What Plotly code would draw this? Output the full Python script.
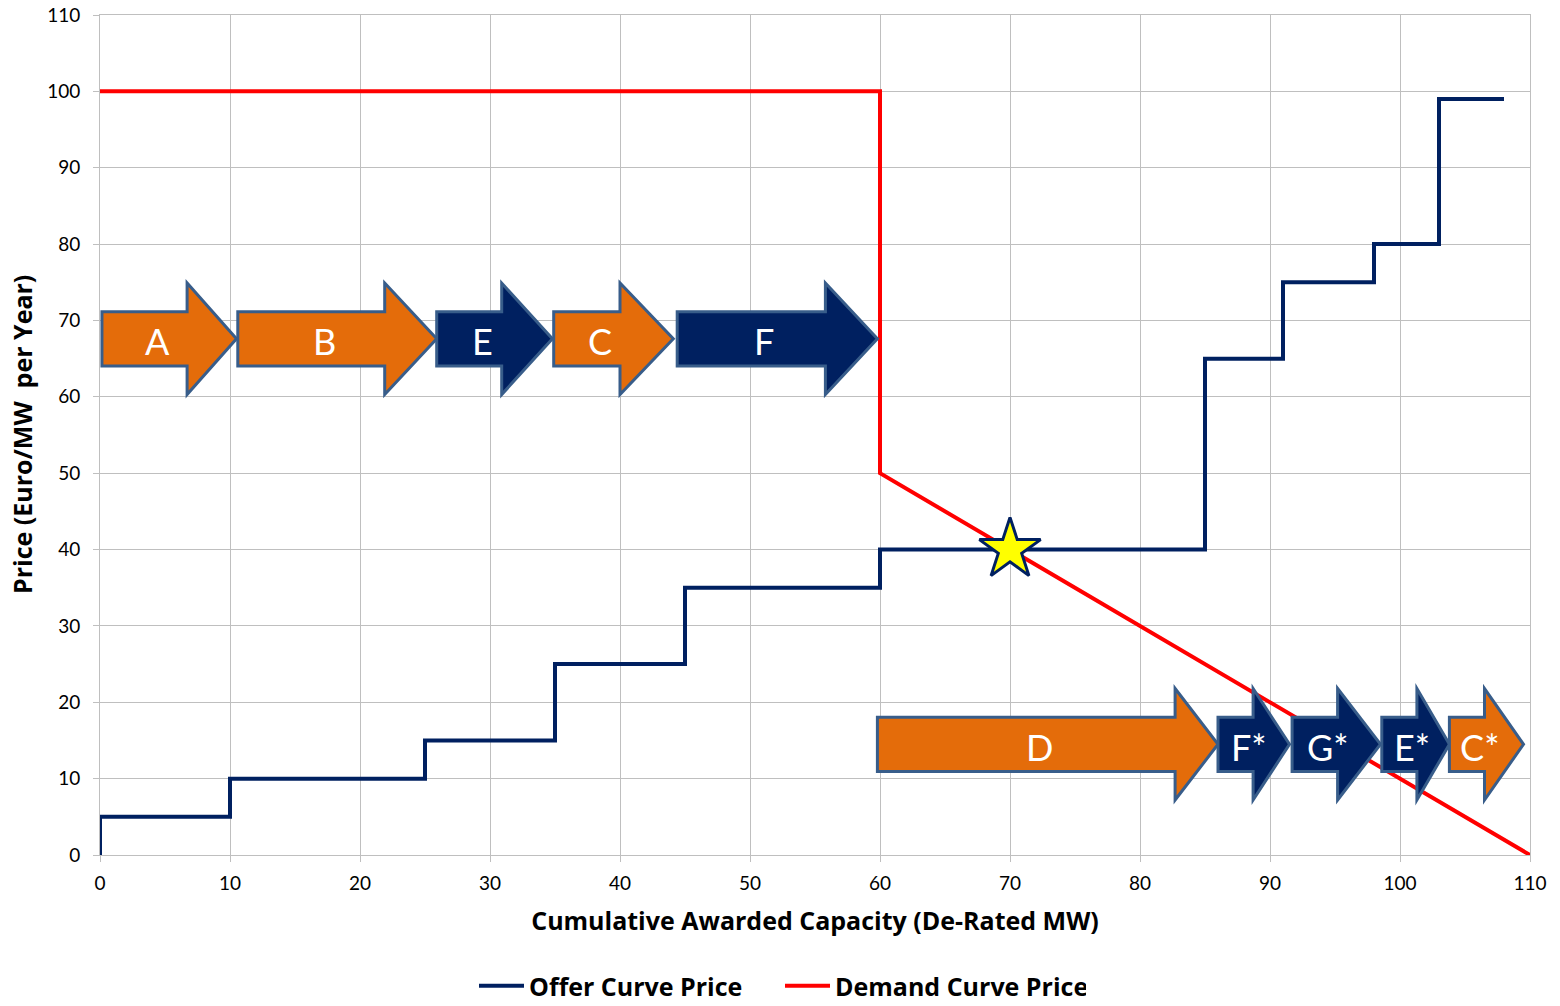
import plotly.graph_objects as go

# ---------------- data ----------------
offer_x = [0, 0, 10, 25, 35, 45, 60, 85, 91, 98, 103, 108]
offer_y = [0, 5, 10, 15, 25, 35, 40, 65, 75, 80, 99, 99]

demand_x = [0, 60, 60, 110]
demand_y = [100, 100, 50, 0]

clear_x = [70]
clear_y = [40]

top_labels = ["A", "B", "E", "C", "F"]
top_start = [0.15, 10.6, 25.9, 34.9, 44.4]
top_end = [10.5, 25.9, 34.8, 44.1, 59.8]
top_kind = ["o", "o", "n", "o", "n"]
top_level = 67.6

bot_labels = ["D", "F*", "G*", "E*", "C*"]
bot_start = [59.8, 86.0, 91.7, 98.6, 103.8]
bot_end = [86.0, 91.5, 98.5, 103.8, 109.5]
bot_kind = ["o", "n", "n", "n", "o"]
bot_level = 14.5

x_ticks = [0, 10, 20, 30, 40, 50, 60, 70, 80, 90, 100, 110]
y_ticks = [0, 10, 20, 30, 40, 50, 60, 70, 80, 90, 100, 110]

# ---------------- styles ----------------
NAVY = "#002060"
ORANGE = "#E46C0A"
RED = "#FF0000"
OUTLINE = "#385D8A"
GRID = "#BFBFBF"
FONT = "Lato"
TFONT = "Open Sans"
fill_of = {"o": ORANGE, "n": NAVY}
top_head = [3.8, 4.0, 3.9, 4.1, 4.0]
bot_head = [3.3, 2.8, 3.3, 2.5, 3.0]
shaft_half = 3.55
head_half = 7.3

fig = go.Figure()

fig.add_trace(go.Scatter(
    x=offer_x, y=offer_y, mode="lines", line_shape="hv",
    line=dict(color=NAVY, width=4), name="Offer Curve Price"))
fig.add_trace(go.Scatter(
    x=demand_x, y=demand_y, mode="lines",
    line=dict(color=RED, width=4), name="Demand Curve Price"))

shapes = []
annotations = []


def add_arrows(labels, starts, ends, kinds, heads, yc):
    for lab, x0, x1, k, hl in zip(labels, starts, ends, kinds, heads):
        hx = x1 - hl
        yb, yt = yc - shaft_half, yc + shaft_half
        hb, ht = yc - head_half, yc + head_half
        path = (f"M {x0},{yb} L {hx},{yb} L {hx},{hb} L {x1},{yc} "
                f"L {hx},{ht} L {hx},{yt} L {x0},{yt} Z")
        shapes.append(dict(type="path", path=path, xref="x", yref="y",
                           fillcolor=fill_of[k], layer="above",
                           line=dict(color=OUTLINE, width=3)))
        annotations.append(dict(x=(x0 + hx) / 2 + 1.0, y=yc - 0.3,
                                xref="x", yref="y", text=lab,
                                showarrow=False,
                                font=dict(family=FONT, size=36,
                                          color="white")))


add_arrows(top_labels, top_start, top_end, top_kind, top_head, top_level)
add_arrows(bot_labels, bot_start, bot_end, bot_kind, bot_head, bot_level)

# y-axis title placed as a rotated annotation
annotations.append(dict(x=0, y=0.5, xref="paper", yref="paper",
                        xanchor="center", yanchor="middle", xshift=-78,
                        textangle=-90, showarrow=False,
                        text="Price (Euro/MW  per Year)",
                        font=dict(family=TFONT, size=25, color="black",
                                  weight="bold")))

fig.add_trace(go.Scatter(
    x=clear_x, y=clear_y, mode="markers", showlegend=False,
    marker=dict(symbol="star", size=46, color="#FFFF00",
                line=dict(color=NAVY, width=3))))

fig.update_layout(
    width=1544, height=990,
    margin=dict(l=92, r=22, t=7, b=143),
    paper_bgcolor="white", plot_bgcolor="white",
    shapes=shapes, annotations=annotations,
    font=dict(family=FONT, color="black"),
    legend=dict(orientation="h", xref="container", yref="container",
                x=0.5, xanchor="center", y=0.012, yanchor="middle",
                font=dict(family=TFONT, size=25, color="black", weight="bold"),
                itemwidth=45, entrywidth=246, entrywidthmode="pixels"),
    xaxis=dict(range=[0, 110], tickvals=x_ticks,
               ticktext=[str(v) for v in x_ticks],
               showgrid=True, gridcolor=GRID, gridwidth=1,
               showline=True, linecolor=GRID, linewidth=1, mirror=True,
               ticks="outside", ticklen=6, tickcolor=GRID,
               ticklabelstandoff=5, ticklabeloverflow="allow",
               tickfont=dict(family=FONT, size=19, color="black"),
               zeroline=False, automargin=False,
               title=dict(text="Cumulative Awarded Capacity (De-Rated MW)",
                          font=dict(family=TFONT, size=25, color="black",
                                    weight="bold"),
                          standoff=19)),
    yaxis=dict(range=[0, 110], tickvals=y_ticks,
               ticktext=[str(v) for v in y_ticks],
               showgrid=True, gridcolor=GRID, gridwidth=1,
               showline=True, linecolor=GRID, linewidth=1, mirror=True,
               ticks="outside", ticklen=6, tickcolor=GRID,
               ticklabelstandoff=9, ticklabeloverflow="allow",
               tickfont=dict(family=FONT, size=19, color="black"),
               zeroline=False, automargin=False),
)

fig.write_html("out.html")
